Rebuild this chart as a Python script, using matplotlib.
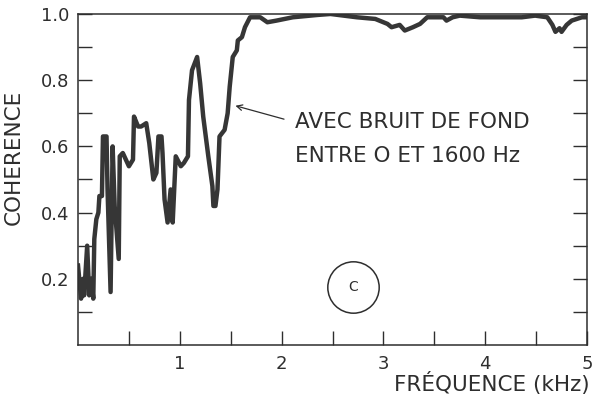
import matplotlib
matplotlib.use("Agg")
import matplotlib.pyplot as plt

# Coherence measured with background noise between 0 and 1600 Hz
freq_khz = [
    0.00, 0.03, 0.05, 0.06, 0.09, 0.11, 0.13, 0.15, 0.16, 0.18,
    0.20, 0.21, 0.235, 0.245, 0.28, 0.29, 0.32, 0.34, 0.36, 0.40,
    0.41, 0.44, 0.47, 0.50, 0.54, 0.55, 0.59, 0.62, 0.67, 0.70,
    0.74, 0.77, 0.79, 0.82, 0.83, 0.85, 0.88, 0.91, 0.93, 0.96,
    1.01, 1.04, 1.08, 1.09, 1.12, 1.17, 1.20, 1.23, 1.28, 1.32,
    1.33, 1.35, 1.37, 1.39, 1.44, 1.47, 1.49, 1.52, 1.56, 1.57,
    1.61, 1.64, 1.69, 1.79, 1.86, 1.95, 2.11, 2.35, 2.48, 2.74,
    2.92, 3.04, 3.08, 3.16, 3.21, 3.29, 3.36, 3.43, 3.59, 3.62,
    3.68, 3.75, 3.95, 4.19, 4.36, 4.49, 4.61, 4.66, 4.69, 4.73,
    4.75, 4.80, 4.85, 4.95, 5.00,
]
coherence = [
    0.24, 0.14, 0.20, 0.15, 0.30, 0.15, 0.20, 0.14, 0.32, 0.38,
    0.40, 0.45, 0.45, 0.63, 0.63, 0.47, 0.16, 0.60, 0.42, 0.26,
    0.57, 0.58, 0.56, 0.54, 0.56, 0.69, 0.66, 0.66, 0.67, 0.61,
    0.50, 0.52, 0.63, 0.63, 0.58, 0.44, 0.37, 0.47, 0.37, 0.57,
    0.54, 0.55, 0.57, 0.74, 0.83, 0.87, 0.79, 0.69, 0.57, 0.48,
    0.42, 0.42, 0.47, 0.63, 0.65, 0.70, 0.78, 0.87, 0.89, 0.92,
    0.93, 0.96, 0.99, 0.99, 0.975, 0.98, 0.99, 0.997, 1.00, 0.99,
    0.985, 0.97, 0.96, 0.967, 0.95, 0.96, 0.97, 0.99, 0.99, 0.98,
    0.99, 0.995, 0.99, 0.99, 0.99, 0.995, 0.99, 0.967, 0.946, 0.957,
    0.946, 0.967, 0.98, 0.99, 0.99,
]

x_ticks = [0.5, 1.0, 1.5, 2.0, 2.5, 3.0, 3.5, 4.0, 4.5, 5.0]
x_labels = ["", "1", "", "2", "", "3", "", "4", "", "5"]
y_ticks = [0.1, 0.2, 0.3, 0.4, 0.5, 0.6, 0.7, 0.8, 0.9, 1.0]
y_labels = ["", "0.2", "", "0.4", "", "0.6", "", "0.8", "", "1.0"]

ink = "#2e2e2e"

fig = plt.figure(figsize=(5.96, 3.97), dpi=100)
ax = fig.add_axes([0.1309, 0.131, 0.854, 0.8338])

ax.plot(freq_khz, coherence, color="#363636", lw=3.2, solid_joinstyle="round")

ax.set_xlim(0, 5)
ax.set_ylim(0, 1.0)
ax.set_xticks(x_ticks)
ax.set_xticklabels(x_labels)
ax.set_yticks(y_ticks)
ax.set_yticklabels(y_labels)
ax.tick_params(axis="x", direction="in", length=10, width=1.0, color=ink,
               labelsize=13, labelcolor=ink, pad=7)
ax.tick_params(axis="y", direction="in", length=10, width=1.0, color=ink,
               labelsize=13, labelcolor=ink, pad=6, right=True)
for s in ax.spines.values():
    s.set_linewidth(1.1)
    s.set_color(ink)

ax.set_ylabel("COHERENCE", fontsize=15.5, color=ink)
ax.yaxis.set_label_coords(-0.106, 0.568)
fig.text(0.99, 0.035, "FRÉQUENCE (kHz)", fontsize=15.5, color=ink,
         ha="right", va="center")

ax.annotate("", xy=(1.52, 0.725), xytext=(2.05, 0.68),
            arrowprops=dict(arrowstyle="->", color=ink, lw=0.9))
ax.text(2.13, 0.675, "AVEC BRUIT DE FOND", fontsize=15.5, color=ink,
        va="center", ha="left")
ax.text(2.13, 0.57, "ENTRE O ET 1600 Hz", fontsize=15.5, color=ink,
        va="center", ha="left")

# circled panel letter
ax.plot([2.70], [0.175], marker="o", ms=37, mfc="none", mec=ink, mew=1.1)
ax.text(2.70, 0.175, "C", fontsize=10, color=ink, ha="center", va="center")

fig.savefig("out.png", dpi=100, facecolor="white")
